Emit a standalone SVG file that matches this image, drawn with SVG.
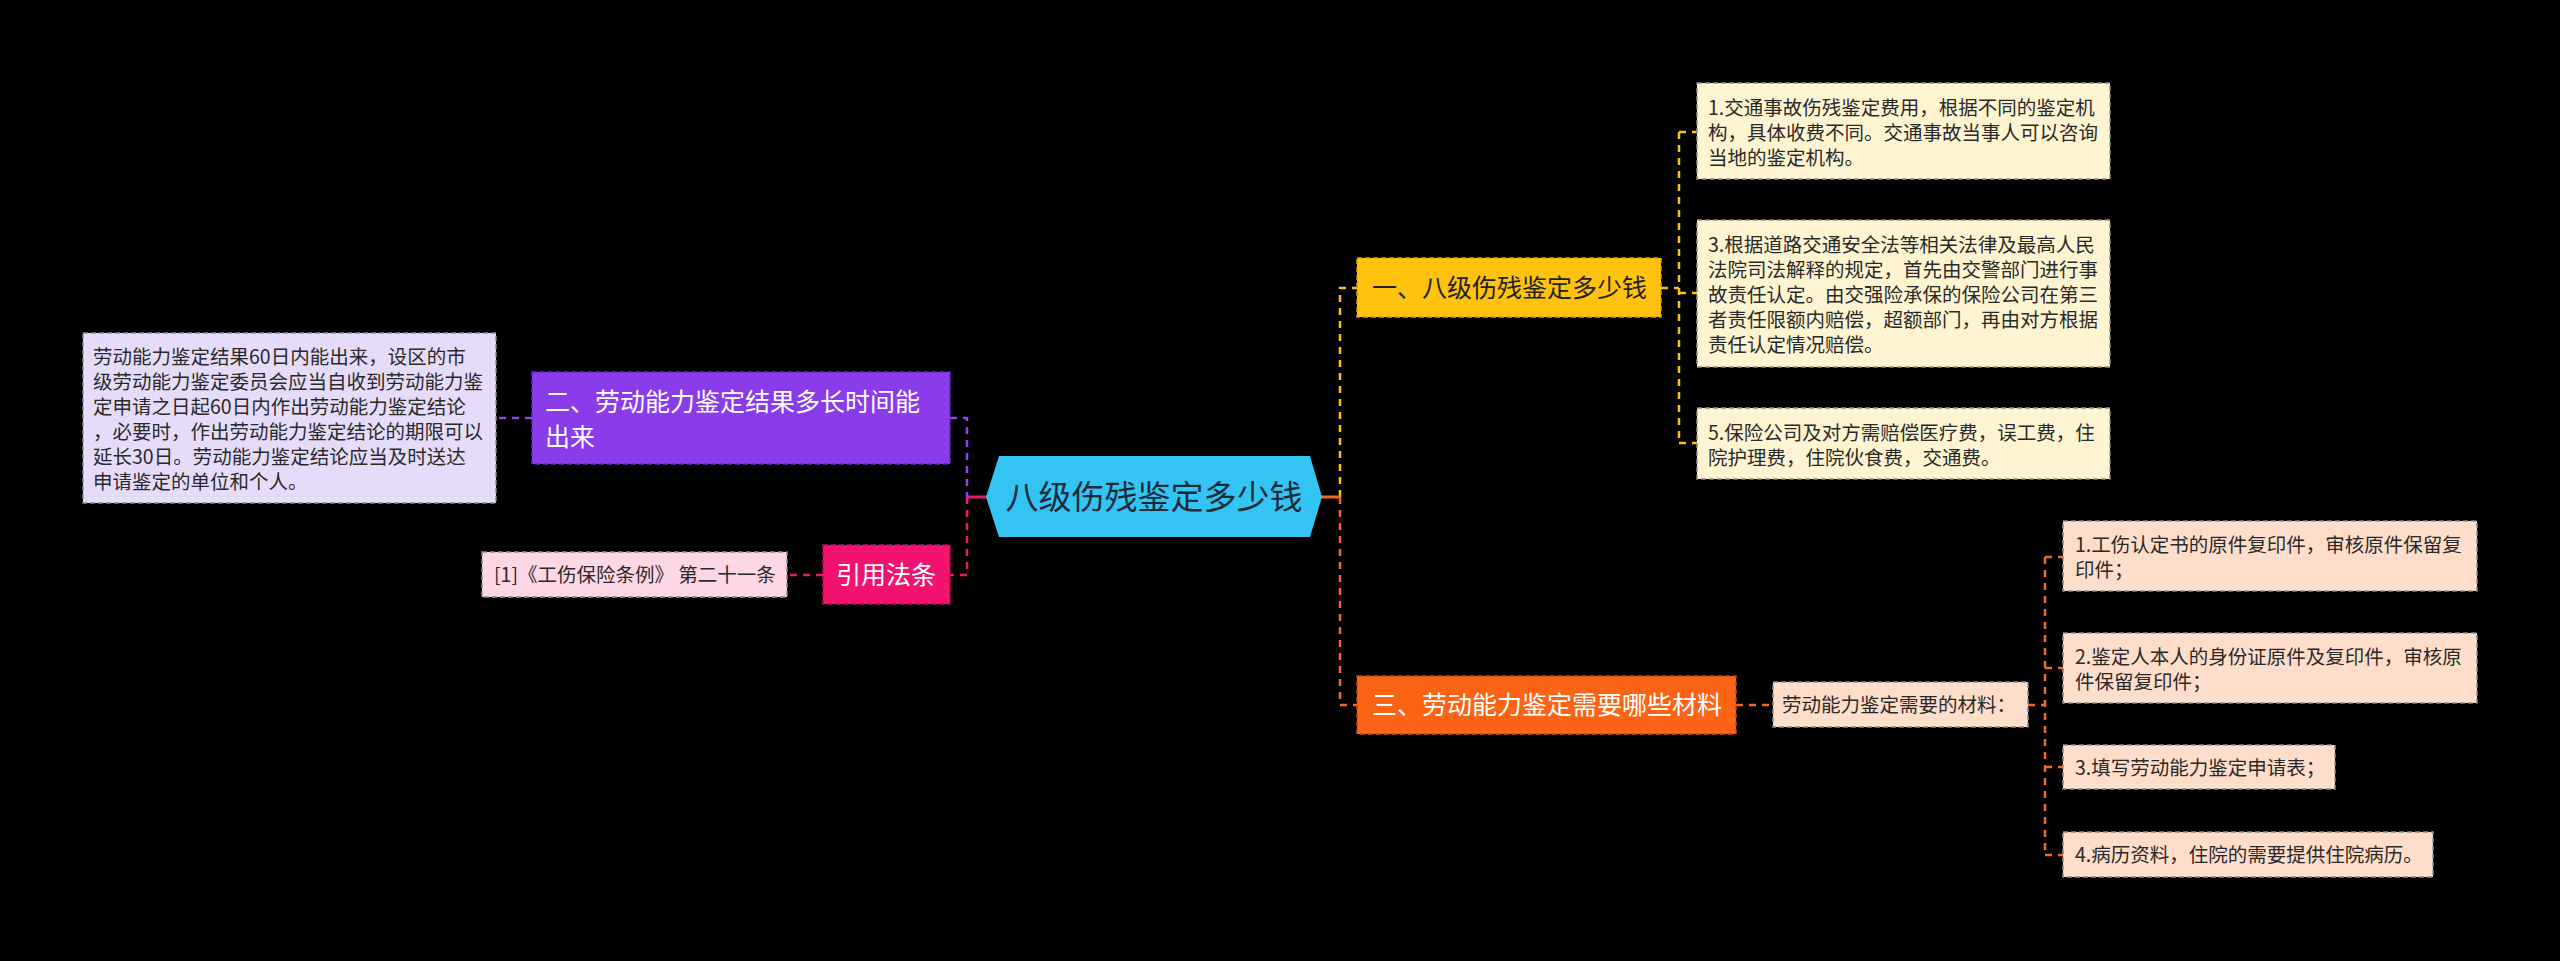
<svg xmlns="http://www.w3.org/2000/svg" width="2560" height="961" viewBox="0 0 2560 961">
<style>
text { font-family: "Noto Sans CJK SC", "Noto Sans", sans-serif; }
.leaf { font-size: 19.5px; fill: #2a2a2a; }
.main { font-size: 25px; }
.c { fill: none; stroke-width: 2.5; stroke-dasharray: 7 6; }
.solid { fill: none; stroke-width: 3; }
.lb { stroke: #8c8c8c; stroke-width: 1.5; stroke-dasharray: 5 3; }
</style>
<rect width="2560" height="961" fill="#000"/>
<g id="connectors">
  <path class="c" stroke="#8B44F0" d="M532,418 H496 M950,418 H967 V497"/>
  <path class="c" stroke="#E8196F" d="M967,497 V575 H950 M823,575 H787"/>
  <path class="solid" stroke="#E8196F" d="M967,497 H987"/>
  <path class="c" stroke="#F7C21B" d="M1340,497 V288 H1357 M1661,288 H1679 M1679,132 V443 M1679,132 H1697 M1679,293 H1697 M1679,443 H1697"/>
  <path class="solid" stroke="#F26A1E" d="M1321,497 H1340"/>
  <path class="c" stroke="#F26A1E" d="M1340,497 V705 H1357 M1736,705 H1773 M2028,705 H2045 M2045,557 V855 M2045,557 H2063 M2045,668 H2063 M2045,767 H2063 M2045,855 H2063"/>
</g>
<g id="center">
  <polygon points="986,497 999,456 1310,456 1322,497 1310,537 999,537" fill="#33C4F4"/>
  <text x="1154" y="509" text-anchor="middle" font-size="33" fill="#1d2b38">八级伤残鉴定多少钱</text>
</g>
<g id="n2">
  <rect x="532" y="372" width="418" height="92" fill="#8A3BEA" stroke="#6A22C8" stroke-width="1.5" stroke-dasharray="5 3"/>
  <text class="main" fill="#fff" x="545" y="411">二、劳动能力鉴定结果多长时间能</text>
  <text class="main" fill="#fff" x="545" y="446">出来</text>
</g>
<g id="n2leaf">
  <rect class="lb" x="83" y="333" width="413" height="170" fill="#E6DCFA"/>
  <text class="leaf" x="93" y="364">劳动能力鉴定结果60日内能出来，设区的市</text>
  <text class="leaf" x="93" y="389">级劳动能力鉴定委员会应当自收到劳动能力鉴</text>
  <text class="leaf" x="93" y="414">定申请之日起60日内作出劳动能力鉴定结论</text>
  <text class="leaf" x="93" y="439">，必要时，作出劳动能力鉴定结论的期限可以</text>
  <text class="leaf" x="93" y="464">延长30日。劳动能力鉴定结论应当及时送达</text>
  <text class="leaf" x="93" y="489">申请鉴定的单位和个人。</text>
</g>
<g id="ref">
  <rect x="823" y="545" width="127" height="59" fill="#F2136F" stroke="#C00A55" stroke-width="1.5" stroke-dasharray="5 3"/>
  <text class="main" fill="#fff" x="886" y="584" text-anchor="middle">引用法条</text>
</g>
<g id="refleaf">
  <rect class="lb" x="482" y="552" width="305" height="45" fill="#FDD7E6"/>
  <text class="leaf" x="494" y="582">[1]《工伤保险条例》 第二十一条</text>
</g>
<g id="n1">
  <rect x="1357" y="258" width="304" height="59" fill="#FFC20E" stroke="#D9A000" stroke-width="1.5" stroke-dasharray="5 3"/>
  <text class="main" fill="#222" x="1372" y="297">一、八级伤残鉴定多少钱</text>
</g>
<g id="n1a">
  <rect class="lb" x="1697" y="83" width="413" height="96" fill="#FFF4D2"/>
  <text class="leaf" x="1708" y="115">1.交通事故伤残鉴定费用，根据不同的鉴定机</text>
  <text class="leaf" x="1708" y="140">构，具体收费不同。交通事故当事人可以咨询</text>
  <text class="leaf" x="1708" y="165">当地的鉴定机构。</text>
</g>
<g id="n1b">
  <rect class="lb" x="1697" y="220" width="413" height="147" fill="#FFF4D2"/>
  <text class="leaf" x="1708" y="252">3.根据道路交通安全法等相关法律及最高人民</text>
  <text class="leaf" x="1708" y="277">法院司法解释的规定，首先由交警部门进行事</text>
  <text class="leaf" x="1708" y="302">故责任认定。由交强险承保的保险公司在第三</text>
  <text class="leaf" x="1708" y="327">者责任限额内赔偿，超额部门，再由对方根据</text>
  <text class="leaf" x="1708" y="352">责任认定情况赔偿。</text>
</g>
<g id="n1c">
  <rect class="lb" x="1697" y="408" width="413" height="71" fill="#FFF4D2"/>
  <text class="leaf" x="1708" y="440">5.保险公司及对方需赔偿医疗费，误工费，住</text>
  <text class="leaf" x="1708" y="465">院护理费，住院伙食费，交通费。</text>
</g>
<g id="n3">
  <rect x="1357" y="676" width="379" height="58" fill="#FA6414" stroke="#C94B05" stroke-width="1.5" stroke-dasharray="5 3"/>
  <text class="main" fill="#fff" x="1372" y="714">三、劳动能力鉴定需要哪些材料</text>
</g>
<g id="n3m">
  <rect class="lb" x="1773" y="682" width="255" height="45" fill="#FEDDCB"/>
  <text class="leaf" x="1782" y="712">劳动能力鉴定需要的材料：</text>
</g>
<g id="m1">
  <rect class="lb" x="2063" y="521" width="414" height="70" fill="#FEDDCB"/>
  <text class="leaf" x="2075" y="552">1.工伤认定书的原件复印件，审核原件保留复</text>
  <text class="leaf" x="2075" y="577">印件；</text>
</g>
<g id="m2">
  <rect class="lb" x="2063" y="633" width="414" height="70" fill="#FEDDCB"/>
  <text class="leaf" x="2075" y="664">2.鉴定人本人的身份证原件及复印件，审核原</text>
  <text class="leaf" x="2075" y="689">件保留复印件；</text>
</g>
<g id="m3">
  <rect class="lb" x="2063" y="745" width="272" height="44" fill="#FEDDCB"/>
  <text class="leaf" x="2075" y="775">3.填写劳动能力鉴定申请表；</text>
</g>
<g id="m4">
  <rect class="lb" x="2063" y="832" width="370" height="45" fill="#FEDDCB"/>
  <text class="leaf" x="2075" y="862">4.病历资料，住院的需要提供住院病历。</text>
</g>
</svg>
